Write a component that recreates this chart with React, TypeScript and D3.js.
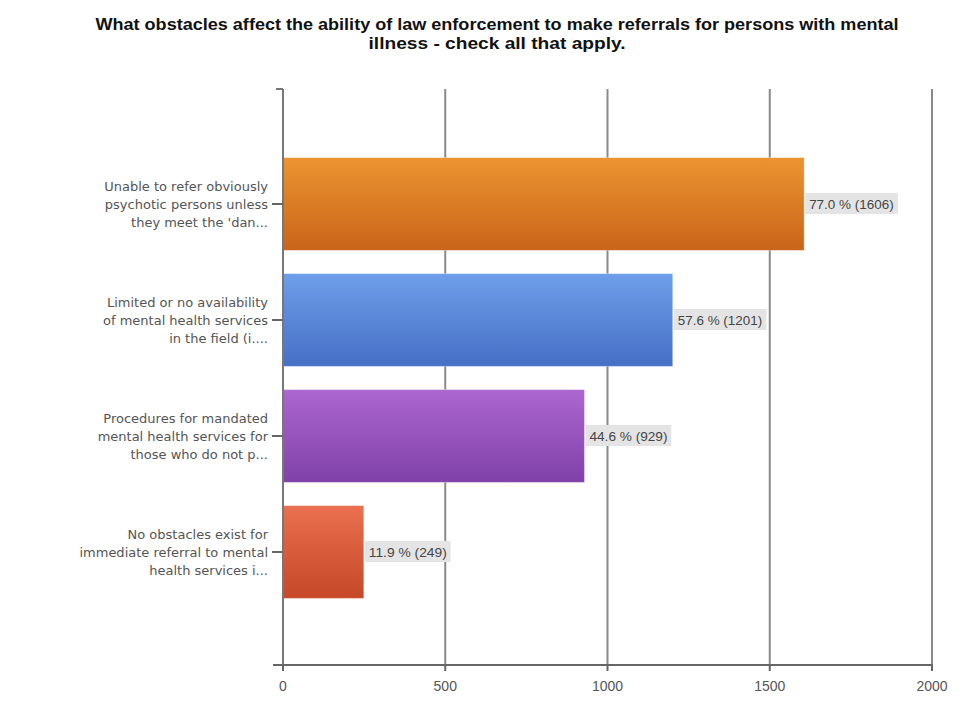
import React from "react";
import * as d3 from "d3";

const titleLines = [
  "What obstacles affect the ability of law enforcement to make referrals for persons with mental",
  "illness - check all that apply.",
];
const titleWidths = [803, 257];
const categories = [
  ["Unable to refer obviously", "psychotic persons unless", "they meet the 'dan..."],
  ["Limited or no availability", "of mental health services", "in the field (i...."],
  ["Procedures for mandated", "mental health services for", "those who do not p..."],
  ["No obstacles exist for", "immediate referral to mental", "health services i..."],
];
const counts = [1606, 1201, 929, 249];
const percents = ["77.0 %", "57.6 %", "44.6 %", "11.9 %"];
const xTicks = [0, 500, 1000, 1500, 2000];
const barColors = [
  ["#ec9430", "#c9641a"],
  ["#6e9ee9", "#4670c6"],
  ["#ac66d0", "#8042a8"],
  ["#ea7050", "#c64828"],
];

export default function App() {
  const W = 980, H = 721;
  const x0 = 283, x1 = 932, yTop = 89, yBot = 665;
  const x = d3.scaleLinear().domain([0, 2000]).range([x0, x1]);
  const ids = categories.map((_, i) => String(i));
  const y = d3.scaleBand().domain(ids).range([146, 610]).paddingInner(0.2).paddingOuter(0.1);
  const font = "'Liberation Sans', Arial, sans-serif";
  const labFont = "'DejaVu Sans', 'Liberation Sans', sans-serif";
  return (
    <svg width={W} height={H} style={{ position: "absolute", left: 0, top: 0, background: "#fff" }}>
      <defs>
        {barColors.map((c, i) => (
          <linearGradient key={i} id={`g${i}`} x1="0" y1="0" x2="0" y2="1">
            <stop offset="0%" stopColor={c[0]} />
            <stop offset="100%" stopColor={c[1]} />
          </linearGradient>
        ))}
      </defs>
      {titleLines.map((t, i) => (
        <text key={i} x={497} y={30 + i * 19} textAnchor="middle" fontFamily={font} fontWeight="bold" fontSize={16}
          fill="#111" textLength={titleWidths[i]} lengthAdjust="spacingAndGlyphs">
          {t}
        </text>
      ))}
      {/* gridlines */}
      {xTicks.slice(1).map((t) => (
        <line key={t} x1={x(t)} x2={x(t)} y1={yTop} y2={yBot} stroke="#8a8a8a" strokeWidth={2} />
      ))}
      {/* bars */}
      {counts.map((c, i) => (
        <rect key={i} x={x(0)} y={y(ids[i])!} width={x(c) - x(0)} height={y.bandwidth()} fill={`url(#g${i})`} stroke="rgba(255,255,255,0.35)" strokeWidth={1} />
      ))}
      {/* value labels */}
      {counts.map((c, i) => {
        const cy = y(ids[i])! + y.bandwidth() / 2;
        const label = `${percents[i]} (${c})`;
        const w = label.length * 6.9 + 3;
        return (
          <g key={i}>
            <rect x={x(c) + 1} y={cy - 11} width={w} height={21} fill="#e4e4e4" />
            <text x={x(c) + 5} y={cy + 4.5} fontFamily={font} fontSize={13} fill="#444"
              textLength={label.length * 6.5} lengthAdjust="spacingAndGlyphs">
              {label}
            </text>
          </g>
        );
      })}
      {/* left axis */}
      <line x1={x0} x2={x0} y1={yTop} y2={yBot + 6} stroke="#777" strokeWidth={2} />
      <line x1={276} x2={x0} y1={yTop} y2={yTop} stroke="#777" strokeWidth={2} />
      {/* bottom axis */}
      <line x1={273} x2={x1 + 1} y1={yBot} y2={yBot} stroke="#666" strokeWidth={2} />
      {xTicks.map((t) => (
        <g key={t}>
          <line x1={x(t)} x2={x(t)} y1={yBot} y2={yBot + 6} stroke="#666" strokeWidth={2} />
          <text x={x(t)} y={yBot + 26} textAnchor="middle" fontFamily={font} fontSize={14} fill="#555">
            {t}
          </text>
        </g>
      ))}
      {/* category labels */}
      {categories.map((lines, i) => {
        const cy = y(ids[i])! + y.bandwidth() / 2;
        return (
          <g key={i}>
            <line x1={272} x2={x0} y1={cy} y2={cy} stroke="#666" strokeWidth={2} />
            {lines.map((l, j) => (
              <text key={j} x={268} y={cy + (j - 1) * 18 + 5} textAnchor="end" fontFamily={labFont} fontSize={13} fill="#555">
                {l}
              </text>
            ))}
          </g>
        );
      })}
    </svg>
  );
}
